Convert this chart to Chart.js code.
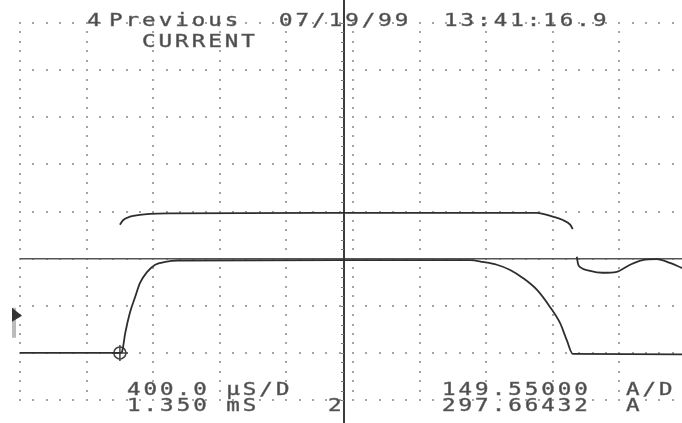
<!DOCTYPE html>
<html>
<head>
<meta charset="utf-8">
<script src="https://cdn.jsdelivr.net/npm/chart.js@4.4.0/dist/chart.umd.min.js"></script>
<style>
html, body { margin: 0; padding: 0; background: #fff; }
#wrap { width: 682px; height: 423px; }
</style>
</head>
<body>
<div id="wrap"><canvas id="scope" width="682" height="423"></canvas></div>
<script>
// scope screen, values in divisions (x: 400 uS/div, y: 149.55 A/div)
const lowerX = [0, 1.50, 1.53, 1.58, 1.65, 1.73, 1.80, 1.91, 2.03, 2.18, 2.36, 4.80, 6.76, 6.95, 7.16, 7.36, 7.55, 7.76, 7.96, 8.11, 8.21, 8.30, 9.94];
const lowerY = [1.00, 1.00, 1.02, 1.42, 1.85, 2.19, 2.48, 2.72, 2.87, 2.93, 2.96, 2.97, 2.97, 2.93, 2.87, 2.76, 2.59, 2.34, 1.97, 1.63, 1.27, 0.98, 0.97];

const upperX = [1.50, 1.55, 1.65, 1.80, 1.95, 2.21, 4.86, 7.76, 8.00, 8.15, 8.26, 8.30];
const upperY = [3.72, 3.82, 3.89, 3.93, 3.95, 3.96, 3.97, 3.97, 3.89, 3.82, 3.72, 3.63];

const ringX = [8.36, 8.38, 8.41, 8.56, 8.75, 8.96, 9.16, 9.35, 9.56, 9.76, 9.94];
const ringY = [3.04, 2.88, 2.82, 2.74, 2.70, 2.72, 2.87, 2.97, 2.99, 2.91, 2.80];

const triggerPoint = [1.50, 1.00];
const cursorX = 4.865;
const refLevel = 3;
const xDivs = 10;
const yDivs = 8;

const pts = (xs, ys) => xs.map((x, i) => ({ x: x, y: ys[i] }));

function scopeText(ctx, str, x, y) {
  ctx.save();
  ctx.translate(x, y);
  ctx.scale(1.25, 1);
  ctx.font = '18px "DejaVu Sans Mono"';
  ctx.letterSpacing = '2.4px';
  ctx.fillStyle = '#4a4a4a';
  ctx.strokeStyle = '#6a6a6a';
  ctx.lineWidth = 0.5;
  ctx.textBaseline = 'alphabetic';
  ctx.fillText(str, 0, 0);
  ctx.strokeText(str, 0, 0);
  ctx.restore();
}

const screenPlugin = {
  id: 'screen',
  beforeDatasetsDraw(chart) {
    const ctx = chart.ctx, xs = chart.scales.x, ys = chart.scales.y;
    ctx.save();
    ctx.fillStyle = '#a4a4a4';
    // dotted graticule
    for (let i = 0; i <= xDivs; i++) {
      const px = Math.round(xs.getPixelForValue(i));
      if (px > chart.width) continue;
      for (let j = 0; j <= yDivs * 5; j++) {
        const py = Math.round(ys.getPixelForValue(j / 5));
        ctx.fillRect(px - 1, py - 1, 2, 2);
      }
    }
    for (let k = 0; k <= yDivs; k++) {
      const py = Math.round(ys.getPixelForValue(k));
      for (let m = 0; m <= xDivs * 5; m++) {
        const px = Math.round(xs.getPixelForValue(m / 5));
        ctx.fillRect(px - 1, py - 1, 2, 2);
      }
    }
    // reference level
    const ry = ys.getPixelForValue(refLevel);
    ctx.strokeStyle = '#555';
    ctx.lineWidth = 1.5;
    ctx.beginPath();
    ctx.moveTo(chart.chartArea.left, ry);
    ctx.lineTo(chart.chartArea.right, ry);
    ctx.stroke();
    // time cursor
    const cx = xs.getPixelForValue(cursorX);
    ctx.strokeStyle = '#3c3c3c';
    ctx.lineWidth = 2;
    ctx.beginPath();
    ctx.moveTo(cx, 0);
    ctx.lineTo(cx, chart.height);
    ctx.stroke();
    ctx.lineWidth = 1;
    ctx.strokeStyle = '#777';
    for (let j = 0; j <= yDivs * 5; j++) {
      const py = Math.round(ys.getPixelForValue(j / 5)) + 0.5;
      ctx.beginPath();
      ctx.moveTo(cx - 3, py);
      ctx.lineTo(cx, py);
      ctx.stroke();
    }
    // ground marker at left
    const gy = ys.getPixelForValue(2);
    ctx.fillStyle = '#bbb';
    ctx.fillRect(12, gy + 2, 4, 30);
    ctx.fillStyle = '#333';
    ctx.beginPath();
    ctx.moveTo(12, gy + 2);
    ctx.lineTo(22, gy + 10);
    ctx.lineTo(12, gy + 16);
    ctx.closePath();
    ctx.fill();
    ctx.restore();
  },
  afterDatasetsDraw(chart) {
    const ctx = chart.ctx;
    scopeText(ctx, '4', 87, 26);
    scopeText(ctx, 'Previous', 109, 26);
    scopeText(ctx, '07/19/99', 279, 26);
    scopeText(ctx, '13:41:16.9', 444, 26);
    scopeText(ctx, 'CURRENT', 142, 47);
    scopeText(ctx, '400.0 µS/D', 127, 395);
    scopeText(ctx, '1.350 mS', 127, 411);
    scopeText(ctx, '149.55000', 442, 395);
    scopeText(ctx, '297.66432', 442, 411);
    scopeText(ctx, 'A/D', 626, 395);
    scopeText(ctx, 'A', 626, 411);
    scopeText(ctx, '2', 328, 411);
  }
};

const traceStyle = {
  showLine: true,
  borderColor: '#2e2e2e',
  borderWidth: 1.8,
  pointRadius: 0,
  cubicInterpolationMode: 'monotone',
  fill: false
};

new Chart(document.getElementById('scope').getContext('2d'), {
  type: 'scatter',
  data: {
    datasets: [
      Object.assign({ label: 'Current', data: pts(lowerX, lowerY) }, traceStyle),
      Object.assign({ label: 'Envelope', data: pts(upperX, upperY) }, traceStyle),
      Object.assign({ label: 'Ringing', data: pts(ringX, ringY) }, traceStyle),
      {
        label: 'Trigger',
        data: [{ x: triggerPoint[0], y: triggerPoint[1] }],
        pointStyle: 'circle',
        pointRadius: 6,
        borderColor: '#444',
        borderWidth: 1.5,
        backgroundColor: 'rgba(0,0,0,0)'
      },
      {
        label: 'TriggerCross',
        data: [{ x: triggerPoint[0], y: triggerPoint[1] }],
        pointStyle: 'cross',
        pointRadius: 8,
        borderColor: '#444',
        borderWidth: 1.5
      }
    ]
  },
  options: {
    responsive: false,
    animation: false,
    devicePixelRatio: 1,
    layout: { autoPadding: false, padding: { left: 20, right: 0, top: 23, bottom: 23 } },
    scales: {
      x: { type: 'linear', min: 0, max: 9.94, display: false },
      y: { type: 'linear', min: 0, max: yDivs, display: false }
    },
    plugins: {
      legend: { display: false },
      tooltip: { enabled: false }
    }
  },
  plugins: [screenPlugin]
});
</script>
</body>
</html>
